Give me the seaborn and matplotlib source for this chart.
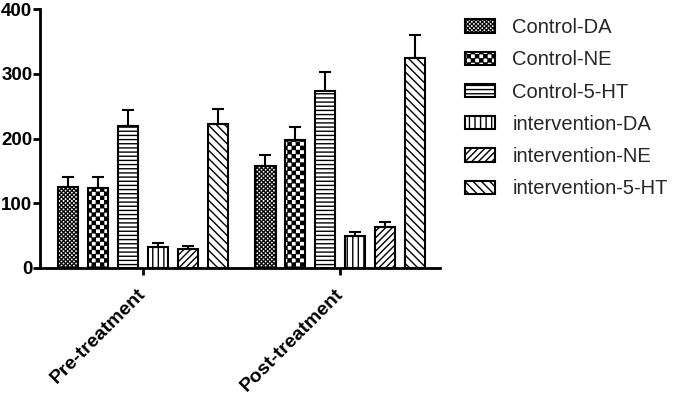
import numpy as np
import pandas as pd
import matplotlib
matplotlib.use("Agg")
import matplotlib.pyplot as plt
import matplotlib.hatch as mhatch
from matplotlib.path import Path
import seaborn as sns

phases = ["Pre-treatment", "Post-treatment"]
groups = ["Control-DA", "Control-NE", "Control-5-HT",
          "intervention-DA", "intervention-NE", "intervention-5-HT"]
pre_mean = [125, 124, 220, 32, 30, 222]
pre_err = [16, 17, 24, 6, 4, 23]
post_mean = [157, 197, 273, 49, 63, 325]
post_err = [18, 21, 29, 6, 8, 35]
y_ticks = [0, 100, 200, 300, 400]

# 'o' -> fine checkerboard, 'O' -> coarse checkerboard (custom, see below)
hatches = ["o", "O", "----", "|||", "/////", "\\\\\\\\"]


class CheckerHatch(mhatch.HatchPatternBase):
    # filled squares on a checkerboard, replaces the circle hatches
    def __init__(self, hatch, density):
        self.n = 4 * density * hatch.count("O") + 8 * density * hatch.count("o")
        self.cells = [(i, j) for i in range(self.n) for j in range(self.n)
                      if (i + j) % 2 == 0]
        self.num_vertices = 5 * len(self.cells)

    def set_vertices_and_codes(self, vertices, codes):
        s = 1.0 / self.n
        inset = 0.005
        sq = np.array([[inset, inset], [s - inset, inset], [s - inset, s - inset],
                       [inset, s - inset], [inset, inset]])
        for k, (i, j) in enumerate(self.cells):
            vertices[5 * k:5 * k + 5] = sq + [i * s, j * s]
            codes[5 * k:5 * k + 5] = [Path.MOVETO, Path.LINETO, Path.LINETO,
                                      Path.LINETO, Path.CLOSEPOLY]


mhatch._hatch_types[:] = [h for h in mhatch._hatch_types
                          if h not in (mhatch.SmallCircles, mhatch.LargeCircles)]
mhatch._hatch_types.append(CheckerHatch)

df = pd.DataFrame({
    "phase": np.repeat(phases, len(groups)),
    "group": groups * len(phases),
    "value": pre_mean + post_mean,
    "err": pre_err + post_err,
})

sns.set_style("ticks")
plt.rcParams["font.family"] = ["Liberation Sans", "DejaVu Sans"]
plt.rcParams["hatch.linewidth"] = 1.0
plt.rcParams["hatch.color"] = "black"

fig = plt.figure(figsize=(6.77, 3.97), dpi=100)
ax = fig.add_axes([40 / 677, 1 - 268 / 397, 400 / 677, 259 / 397])

sns.barplot(data=df, x="phase", y="value", hue="group", order=phases,
            hue_order=groups, palette=["white"] * len(groups), width=0.91,
            gap=0.33, edgecolor="black", linewidth=1.5, errorbar=None,
            legend=False, ax=ax)

err_lookup = df.set_index(["group", "phase"])["err"]
for cont, g, h in zip(ax.containers, groups, hatches):
    xs, ys, es = [], [], []
    for bar, ph in zip(cont, phases):
        bar.set_hatch(h)
        xs.append(bar.get_x() + bar.get_width() / 2)
        ys.append(bar.get_height())
        es.append(err_lookup[(g, ph)])
    ax.errorbar(xs, ys, yerr=[np.zeros(len(es)), es], fmt="none",
                ecolor="black", elinewidth=1.5, capsize=4.5, capthick=1.5)

ax.set_xlim(-0.52, 1.504)
ax.set_ylim(0, 400)
ax.set_yticks(y_ticks)
ax.set_xlabel("")
ax.set_ylabel("")
sns.despine(ax=ax)
for s in ["left", "bottom"]:
    ax.spines[s].set_linewidth(2)
    ax.spines[s].set_color("black")
ax.tick_params(axis="both", width=2, length=5, color="black", labelcolor="black")
ax.tick_params(axis="y", pad=0.5)
ax.tick_params(axis="x", pad=12)
for lab in ax.get_yticklabels():
    lab.set_fontsize(13.5)
    lab.set_fontweight("bold")
ax.set_xticks(range(len(phases)))
ax.set_xticklabels(phases, rotation=45, ha="right", va="center",
                   rotation_mode="anchor", fontsize=14, fontweight="bold")

ax.legend(handles=list(ax.containers), labels=groups, frameon=False,
          loc="upper left", bbox_to_anchor=(465 / 677, 1 - 18 / 397),
          bbox_transform=fig.transFigure, borderpad=0, borderaxespad=0,
          fontsize=14.5, handlelength=1.5, handleheight=0.63,
          handletextpad=0.85, labelspacing=0.66)

fig.savefig("out.png", dpi=100)
